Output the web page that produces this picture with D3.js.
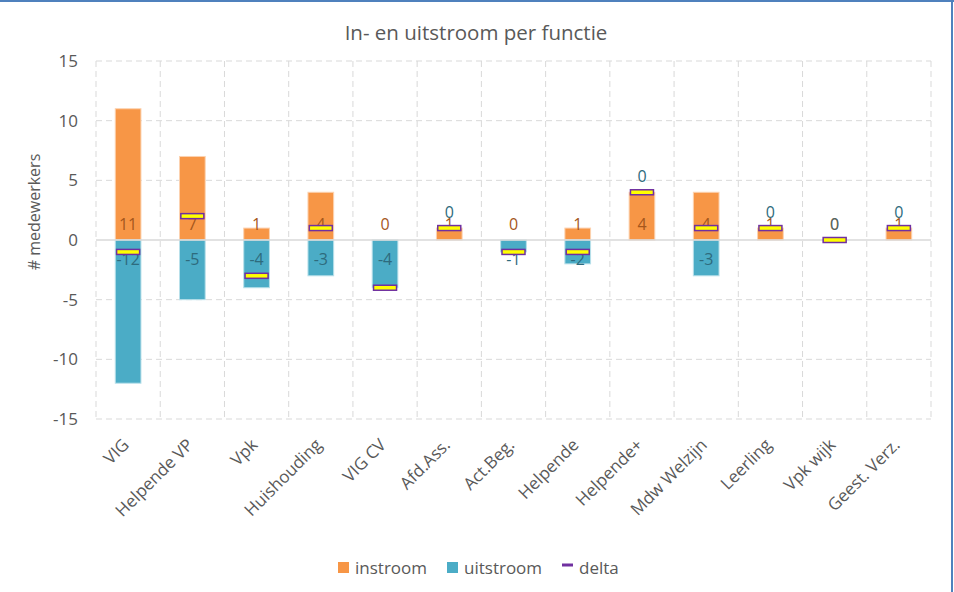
<!DOCTYPE html>
<html>
<head>
<meta charset="utf-8">
<script src="https://cdn.jsdelivr.net/npm/d3@7"></script>
<style>
  body { margin: 0; background: #fff; }
  svg { display: block; font-family: "Open Sans", sans-serif; }
</style>
</head>
<body>
<div id="chart"></div>
<script>
const categories = ['VIG', 'Helpende VP', 'Vpk', 'Huishouding', 'VIG CV', 'Afd.Ass.', 'Act.Beg.',
  'Helpende', 'Helpende+', 'Mdw Welzijn', 'Leerling', 'Vpk wijk', 'Geest. Verz.'];
const instroom = [11, 7, 1, 4, 0, 1, 0, 1, 4, 4, 1, 0, 1];
const uitstroom = [-12, -5, -4, -3, -4, 0, -1, -2, 0, -3, 0, 0, 0];
const yTicks = [-15, -10, -5, 0, 5, 10, 15];

const W = 954, H = 592;
const margin = { top: 61, right: 23, bottom: 173, left: 96 };
const color = { in: '#F79646', out: '#4BACC6', delta: '#7030A0' };

const rows = categories.map((c, i) => ({
  cat: c, inVal: instroom[i], outVal: uitstroom[i], delta: instroom[i] + uitstroom[i]
}));

const svg = d3.select('#chart').append('svg').attr('width', W).attr('height', H);

// chart border (only top/right visible in the original crop)
svg.append('line').attr('x1', 0).attr('x2', W).attr('y1', 1).attr('y2', 1)
  .attr('stroke', '#4F81BD').attr('stroke-width', 2);
svg.append('line').attr('x1', 952).attr('x2', 952).attr('y1', 0).attr('y2', H)
  .attr('stroke', '#4F81BD').attr('stroke-width', 2);

const x = d3.scaleBand().domain(categories)
  .range([margin.left, W - margin.right]).padding(0);
const y = d3.scaleLinear().domain([-15, 15])
  .range([H - margin.bottom, margin.top]);
const barW = x.bandwidth() / 2.5;

// title
svg.append('text').attr('x', 476).attr('y', 40).attr('text-anchor', 'middle')
  .attr('font-size', 20.5).attr('fill', '#595959').text('In- en uitstroom per functie');

// gridlines
const grid = svg.append('g').attr('stroke', '#d9d9d9').attr('stroke-dasharray', '6,4');
grid.selectAll('.h').data(yTicks.filter(d => d !== 0)).join('line')
  .attr('x1', margin.left).attr('x2', W - margin.right)
  .attr('y1', d => y(d)).attr('y2', d => y(d));
grid.selectAll('.v').data(categories.concat([null])).join('line')
  .attr('x1', (d, i) => margin.left + i * x.step())
  .attr('x2', (d, i) => margin.left + i * x.step())
  .attr('y1', y(15)).attr('y2', y(-15));

// y axis
const yAxis = svg.append('g').attr('transform', `translate(${margin.left},0)`)
  .call(d3.axisLeft(y).tickValues(yTicks).tickFormat(d => String(d)).tickSize(0).tickPadding(18));
yAxis.select('.domain').remove();
yAxis.selectAll('text').attr('font-size', 17).attr('fill', '#595959')
  .attr('font-family', '"Open Sans", sans-serif');

svg.append('text').attr('transform', 'translate(40,212) rotate(-90)')
  .attr('text-anchor', 'middle').attr('font-size', 16).attr('fill', '#595959')
  .text('# medewerkers');

// bars
svg.append('g').selectAll('rect').data(rows).join('rect')
  .attr('x', d => x(d.cat) + (x.bandwidth() - barW) / 2)
  .attr('width', barW)
  .attr('y', d => y(d.inVal))
  .attr('height', d => y(0) - y(d.inVal))
  .attr('fill', color.in).attr('stroke', '#fcd2b0').attr('stroke-width', d => d.inVal ? 1 : 0);
svg.append('g').selectAll('rect').data(rows).join('rect')
  .attr('x', d => x(d.cat) + (x.bandwidth() - barW) / 2)
  .attr('width', barW)
  .attr('y', y(0))
  .attr('height', d => y(d.outVal) - y(0))
  .attr('fill', color.out).attr('stroke', '#b8e0ea').attr('stroke-width', d => d.outVal ? 1 : 0);

// zero line
svg.append('line').attr('x1', margin.left).attr('x2', W - margin.right)
  .attr('y1', y(0)).attr('y2', y(0)).attr('stroke', '#d9d9d9').attr('stroke-width', 1.5);

// data labels
svg.append('g').selectAll('text').data(rows).join('text')
  .attr('x', d => x(d.cat) + x.bandwidth() / 2)
  .attr('y', y(0) - 16).attr('dy', '0.35em')
  .attr('text-anchor', 'middle').attr('font-size', 16).attr('fill', '#A5571C')
  .text(d => d.inVal);
svg.append('g').selectAll('text').data(rows).join('text')
  .attr('x', d => x(d.cat) + x.bandwidth() / 2)
  .attr('y', d => d.outVal ? y(0) + 19 : y(d.inVal) - 16).attr('dy', '0.35em')
  .attr('text-anchor', 'middle').attr('font-size', 16).attr('fill', '#2E6B7D')
  .attr('fill-opacity', d => (d.outVal || d.inVal) ? 1 : 0.75)
  .text(d => d.outVal);

// delta markers
svg.append('g').selectAll('rect').data(rows).join('rect')
  .attr('x', d => x(d.cat) + x.bandwidth() / 2 - 11.5)
  .attr('y', d => y(d.delta) - 2.5)
  .attr('width', 23).attr('height', 5)
  .attr('fill', '#FFFF00').attr('stroke', color.delta).attr('stroke-width', 1.5);

// x axis labels
svg.append('g').selectAll('text').data(categories).join('text')
  .attr('transform', d => `translate(${x(d) + x.bandwidth() / 2 + 2},${y(-15) + 27}) rotate(-45)`)
  .attr('text-anchor', 'end').attr('font-size', 17).attr('fill', '#595959')
  .text(d => d);

// legend
const legend = [
  { name: 'instroom', type: 'sq', c: color.in, x: 338 },
  { name: 'uitstroom', type: 'sq', c: color.out, x: 447 },
  { name: 'delta', type: 'line', c: color.delta, x: 562 }
];
const lg = svg.append('g').selectAll('g').data(legend).join('g')
  .attr('transform', d => `translate(${d.x},568)`);
lg.filter(d => d.type === 'sq').append('rect')
  .attr('x', 0).attr('y', -6).attr('width', 11).attr('height', 11).attr('fill', d => d.c);
lg.filter(d => d.type === 'line').append('line')
  .attr('x1', 0).attr('x2', 11).attr('y1', -3).attr('y2', -3)
  .attr('stroke', d => d.c).attr('stroke-width', 3);
lg.append('text').attr('x', 17).attr('y', 0).attr('dy', '0.35em')
  .attr('font-size', 17).attr('fill', '#595959').text(d => d.name);
</script>
</body>
</html>
